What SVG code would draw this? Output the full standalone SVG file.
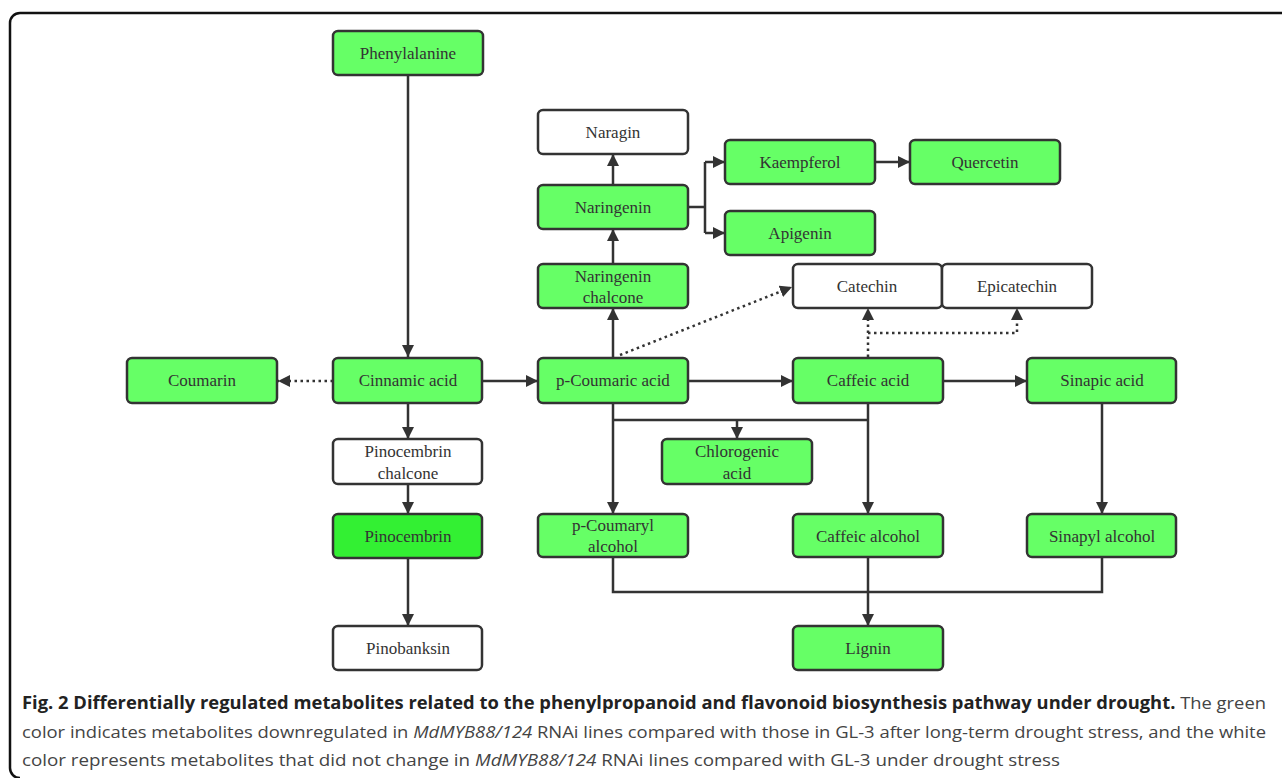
<svg xmlns="http://www.w3.org/2000/svg" width="1282" height="778" viewBox="0 0 1282 778">
<style>
.n rect{stroke:#333;stroke-width:2.5;}
.g rect{fill:#66ff66;}
.w rect{fill:#ffffff;}
.b rect{fill:#33f033;}
.n text{font-family:"Liberation Serif",serif;font-size:17px;fill:#333;text-anchor:middle;dominant-baseline:central;}
.c path{fill:none;stroke:#333;stroke-width:2.5;}
.c .d{stroke-dasharray:2.5 3.5;}
.cap{font-family:"Open Sans","Liberation Sans",sans-serif;font-size:17px;fill:#444;}
.cap .bo{font-weight:bold;fill:#222;}
</style>
<defs>
<marker id="ah" viewBox="0 0 12 12" refX="12" refY="6" markerWidth="12" markerHeight="12" markerUnits="userSpaceOnUse" orient="auto">
<path d="M0,0 L12,6 L0,12 z" fill="#333"/>
</marker>
</defs>
<path d="M1282,13 H20 A10,10 0 0 0 10,23 V768 A10,10 0 0 0 20,778" fill="none" stroke="#111" stroke-width="2.5"/>

<g class="c" id="connectors">
<path d="M408,75 V357" marker-end="url(#ah)"/>
<path class="d" d="M333,381 H278" marker-end="url(#ah)"/>
<path d="M482,381 H538" marker-end="url(#ah)"/>
<path d="M408,402 V439" marker-end="url(#ah)"/>
<path d="M408,484 V514" marker-end="url(#ah)"/>
<path d="M408,558 V626" marker-end="url(#ah)"/>
<path d="M613,357 V308" marker-end="url(#ah)"/>
<path d="M613,264 V229" marker-end="url(#ah)"/>
<path d="M613,184 V154" marker-end="url(#ah)"/>
<path d="M688,207 H705 M705,162 V233"/>
<path d="M705,162 H725" marker-end="url(#ah)"/>
<path d="M705,233 H725" marker-end="url(#ah)"/>
<path d="M875,162 H910" marker-end="url(#ah)"/>
<path class="d" d="M620,355 L792,287" marker-end="url(#ah)"/>
<path d="M688,381 H793" marker-end="url(#ah)"/>
<path d="M943,381 H1027" marker-end="url(#ah)"/>
<path class="d" d="M868,357 V308" marker-end="url(#ah)"/>
<path class="d" d="M868,333 H1017 V308" marker-end="url(#ah)"/>
<path d="M613,402 V514" marker-end="url(#ah)"/>
<path d="M613,420 H868"/>
<path d="M737,420 V439" marker-end="url(#ah)"/>
<path d="M868,402 V514" marker-end="url(#ah)"/>
<path d="M1102,402 V514" marker-end="url(#ah)"/>
<path d="M613,557 V592 H1102 V557"/>
<path d="M868,557 V626" marker-end="url(#ah)"/>
</g>

<g id="phenylalanine" class="n g"><rect x="333" y="31" width="150" height="44" rx="5"/><text x="408" y="53">Phenylalanine</text></g>
<g id="naragin" class="n w"><rect x="538" y="110" width="150" height="44" rx="5"/><text x="613" y="132">Naragin</text></g>
<g id="kaempferol" class="n g"><rect x="725" y="140" width="150" height="44" rx="5"/><text x="800" y="162">Kaempferol</text></g>
<g id="quercetin" class="n g"><rect x="910" y="140" width="150" height="44" rx="5"/><text x="985" y="162">Quercetin</text></g>
<g id="naringenin" class="n g"><rect x="538" y="185" width="150" height="44" rx="5"/><text x="613" y="207">Naringenin</text></g>
<g id="apigenin" class="n g"><rect x="725" y="211" width="150" height="44" rx="5"/><text x="800" y="233">Apigenin</text></g>
<g id="naringenin-chalcone" class="n g"><rect x="538" y="264" width="150" height="44" rx="5"/><text x="613" y="276">Naringenin</text><text x="613" y="297">chalcone</text></g>
<g id="catechin" class="n w"><rect x="793" y="264" width="149" height="44" rx="5"/><text x="867" y="286">Catechin</text></g>
<g id="epicatechin" class="n w"><rect x="942" y="264" width="150" height="44" rx="5"/><text x="1017" y="286">Epicatechin</text></g>
<g id="coumarin" class="n g"><rect x="127" y="358" width="150" height="45" rx="5"/><text x="202" y="380">Coumarin</text></g>
<g id="cinnamic-acid" class="n g"><rect x="333" y="358" width="149" height="45" rx="5"/><text x="408" y="380">Cinnamic acid</text></g>
<g id="p-coumaric-acid" class="n g"><rect x="538" y="358" width="150" height="45" rx="5"/><text x="613" y="380">p-Coumaric acid</text></g>
<g id="caffeic-acid" class="n g"><rect x="793" y="358" width="150" height="45" rx="5"/><text x="868" y="380">Caffeic acid</text></g>
<g id="sinapic-acid" class="n g"><rect x="1027" y="358" width="149" height="45" rx="5"/><text x="1102" y="380">Sinapic acid</text></g>
<g id="pinocembrin-chalcone" class="n w"><rect x="333" y="439" width="149" height="45" rx="5"/><text x="408" y="451">Pinocembrin</text><text x="408" y="473">chalcone</text></g>
<g id="chlorogenic-acid" class="n g"><rect x="662" y="439" width="150" height="45" rx="5"/><text x="737" y="451">Chlorogenic</text><text x="737" y="473">acid</text></g>
<g id="pinocembrin" class="n b"><rect x="333" y="514" width="149" height="44" rx="5"/><text x="408" y="536">Pinocembrin</text></g>
<g id="p-coumaryl-alcohol" class="n g"><rect x="538" y="514" width="150" height="43" rx="5"/><text x="613" y="525">p-Coumaryl</text><text x="613" y="546">alcohol</text></g>
<g id="caffeic-alcohol" class="n g"><rect x="793" y="514" width="150" height="43" rx="5"/><text x="868" y="536">Caffeic alcohol</text></g>
<g id="sinapyl-alcohol" class="n g"><rect x="1027" y="514" width="149" height="43" rx="5"/><text x="1102" y="536">Sinapyl alcohol</text></g>
<g id="pinobanksin" class="n w"><rect x="333" y="626" width="149" height="44" rx="5"/><text x="408" y="648">Pinobanksin</text></g>
<g id="lignin" class="n g"><rect x="793" y="626" width="150" height="44" rx="5"/><text x="868" y="648">Lignin</text></g>

<g id="caption" class="cap">
<text x="22" y="709" textLength="1244" lengthAdjust="spacingAndGlyphs"><tspan class="bo">Fig. 2 Differentially regulated metabolites related to the phenylpropanoid and flavonoid biosynthesis pathway under drought.</tspan> The green</text>
<text x="22" y="738" textLength="1244" lengthAdjust="spacingAndGlyphs">color indicates metabolites downregulated in <tspan font-style="italic">MdMYB88/124</tspan> RNAi lines compared with those in GL-3 after long-term drought stress, and the white</text>
<text x="22" y="766" textLength="1038" lengthAdjust="spacingAndGlyphs">color represents metabolites that did not change in <tspan font-style="italic">MdMYB88/124</tspan> RNAi lines compared with GL-3 under drought stress</text>
</g>
</svg>
